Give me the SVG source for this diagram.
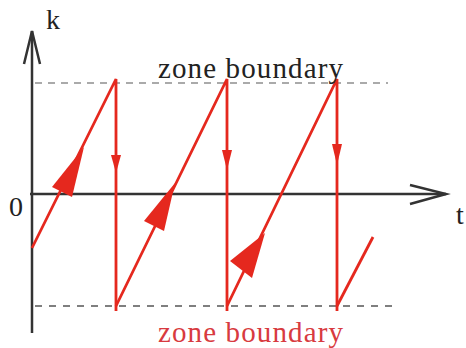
<svg xmlns="http://www.w3.org/2000/svg" width="466" height="348" viewBox="0 0 466 348">
<style>
.axis{stroke:#333;stroke-width:2.5;fill:none}
.red{stroke:#e5281e;stroke-width:2.8;fill:none}
.redfill{fill:#e5281e;stroke:none}
text{font-family:'Liberation Serif','Times New Roman',serif;fill:#222}
</style>
<rect width="466" height="348" fill="#fff"/>
<g id="boundaries">
<line x1="35" y1="83" x2="388" y2="83" stroke="#aaa" stroke-width="2" stroke-dasharray="7,6"/>
<line x1="35" y1="306" x2="392" y2="306" stroke="#555" stroke-width="1.6" stroke-dasharray="7,7"/>
</g>
<g id="axes">
<line class="axis" x1="32" y1="31" x2="32" y2="333"/>
<polyline class="axis" points="24,64 32,31 40,64"/>
<line class="axis" x1="30" y1="194" x2="446" y2="194"/>
<polyline class="axis" points="410,185 446,194 410,204"/>
</g>
<g id="connectors">
<polyline class="red" points="32,248 116,79 116,311"/>
<polyline class="red" points="116,306 227,79 227,311"/>
<polyline class="red" points="227,306 337,79 337,311"/>
<polyline class="red" points="337,306 373,237"/>
<polygon class="redfill" points="111,155 121,155 116,173"/>
<polygon class="redfill" points="222,150 232,150 227,170"/>
<polygon class="redfill" points="332,144 342,144 337,165"/>
<polygon class="redfill" points="84,147 72,197 52,187"/>
<polygon class="redfill" points="175,183 164,231 144,221"/>
<polygon class="redfill" points="230,261 265,233 252,278"/>
</g>
<g id="labels">
<text x="46" y="29" font-size="28">k</text>
<text x="9" y="216" font-size="28">0</text>
<text x="456" y="224" font-size="28">t</text>
<text x="158" y="78" font-size="29" textLength="185" lengthAdjust="spacing">zone boundary</text>
<text x="158" y="342" font-size="29" textLength="185" lengthAdjust="spacing" style="fill:#d83a40">zone boundary</text>
</g>
</svg>
